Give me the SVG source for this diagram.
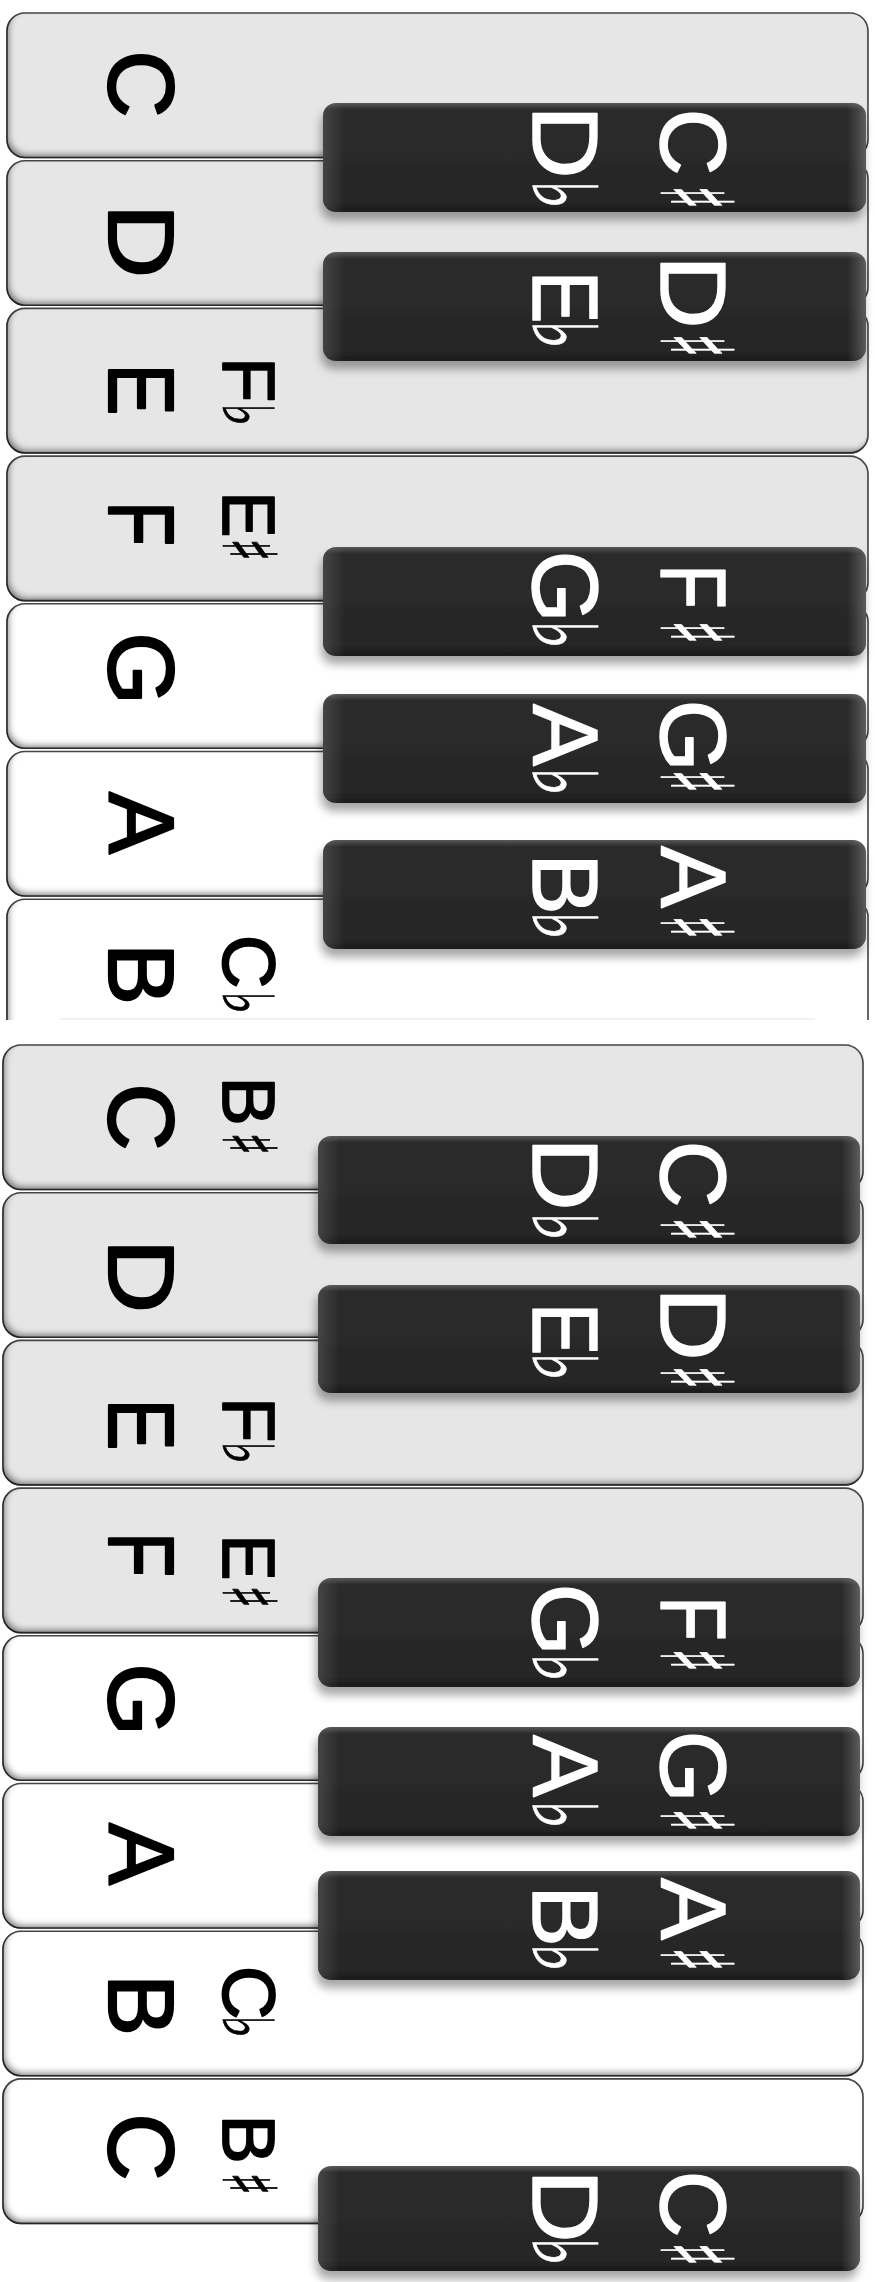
<svg xmlns="http://www.w3.org/2000/svg" width="875" height="2282" viewBox="0 0 875 2282">
<defs>
<style>
.wk{stroke:#4a4a4a;stroke-width:1.6;filter:url(#inset)}
.g{fill:#e6e6e6}.w{fill:#fff}
.bk{fill:url(#bkg);filter:url(#drop)}
.bkh{fill:url(#bkr)}
.lab{font-family:"Liberation Sans",Arial,sans-serif;font-size:93px;fill:#000;stroke:#000;stroke-width:2.2;stroke-linejoin:round}
.sub{font-size:74px;stroke-width:1.8}
.wl{fill:#fff;stroke:#fff;stroke-width:1.4}
.sym{font-family:"DejaVu Sans",sans-serif;stroke-width:0.8}
.sh{font-size:100px}.fl{font-size:89px}
.ssh{font-size:74px}.sfl{font-size:70px}
</style>
<linearGradient id="bkg" x1="0" y1="0" x2="0" y2="1">
<stop offset="0" stop-color="#575757"/><stop offset="0.06" stop-color="#2c2c2c"/><stop offset="0.9" stop-color="#262626"/><stop offset="1" stop-color="#1b1b1b"/>
</linearGradient>
<linearGradient id="bkr" x1="0" y1="0" x2="1" y2="0">
<stop offset="0" stop-color="#777" stop-opacity="0.35"/><stop offset="0.04" stop-color="#777" stop-opacity="0"/><stop offset="0.965" stop-color="#777" stop-opacity="0"/><stop offset="1" stop-color="#888" stop-opacity="0.55"/>
</linearGradient>
<filter id="inset" x="-3%" y="-10%" width="106%" height="120%">
<feFlood flood-color="#000" flood-opacity="0.8" result="c"/>
<feComposite in="c" in2="SourceAlpha" operator="out" result="inv"/>
<feGaussianBlur in="inv" stdDeviation="3"/>
<feOffset dx="3" dy="-4" result="o"/>
<feComposite in="o" in2="SourceAlpha" operator="in" result="s"/>
<feMerge><feMergeNode in="SourceGraphic"/><feMergeNode in="s"/></feMerge>
</filter>
<filter id="drop" x="-5%" y="-20%" width="110%" height="160%">
<feGaussianBlur in="SourceAlpha" stdDeviation="5"/>
<feOffset dx="-2" dy="8" result="b"/>
<feFlood flood-color="#000" flood-opacity="0.35"/>
<feComposite in2="b" operator="in"/>
<feMerge><feMergeNode/><feMergeNode in="SourceGraphic"/></feMerge>
</filter>
<clipPath id="cutB"><rect x="0" y="0" width="875" height="1020"/></clipPath>
</defs>

<g id="white-keys-1">
<g id="s1-C"><rect class="wk g" x="7" y="13" width="861" height="144.5" rx="18"/>
<text class="lab" transform="translate(109,0) rotate(90)" x="50.4">C</text></g>
<g id="s1-D"><rect class="wk g" x="7" y="160.7" width="861" height="144.5" rx="18"/>
<text class="lab" transform="translate(109,0) rotate(90)" x="204" textLength="74" lengthAdjust="spacingAndGlyphs">D</text></g>
<g id="s1-E"><rect class="wk g" x="7" y="308.4" width="861" height="144.5" rx="18"/>
<text class="lab" transform="translate(109,0) rotate(90)" x="363.5" textLength="52" lengthAdjust="spacingAndGlyphs">E</text>
<text class="lab sub" transform="translate(223,0) rotate(90)" x="357">F</text>
<text class="lab sym sfl" transform="translate(223,403) rotate(90) scale(0.72,1)">♭</text></g>
<g id="s1-F"><rect class="wk g" x="7" y="456.1" width="861" height="144.5" rx="18"/>
<text class="lab" transform="translate(109,0) rotate(90)" x="501" textLength="45" lengthAdjust="spacingAndGlyphs">F</text>
<text class="lab sub" transform="translate(223,0) rotate(90)" x="491.5" textLength="46" lengthAdjust="spacingAndGlyphs">E</text>
<text class="lab sym ssh" transform="translate(223,538) rotate(90) scale(0.66,1)">♯</text></g>
<g id="s1-G"><rect class="wk w" x="7" y="603.8" width="861" height="144.5" rx="18"/>
<text class="lab" transform="translate(109,0) rotate(90)" x="632.5">G</text></g>
<g id="s1-A"><rect class="wk w" x="7" y="751.5" width="861" height="144.5" rx="18"/>
<text class="lab" transform="translate(109,0) rotate(90)" x="792">A</text></g>
<g id="s1-B" clip-path="url(#cutB)"><rect class="wk w" x="7" y="899.2" width="861" height="144.5" rx="18"/>
<line x1="60" y1="1019" x2="815" y2="1019" stroke="#ececec" stroke-width="1.5"/>
<text class="lab" transform="translate(109,0) rotate(90)" x="943">B</text>
<text class="lab sub" transform="translate(223,0) rotate(90)" x="935">C</text>
<text class="lab sym sfl" transform="translate(223,991) rotate(90) scale(0.72,1)">♭</text></g>
</g>

<g id="white-keys-2">
<g id="s2-C"><rect class="wk g" x="3" y="1045" width="860" height="144.5" rx="18"/>
<text class="lab" transform="translate(109,0) rotate(90)" x="1083.4">C</text>
<text class="lab sub" transform="translate(223,0) rotate(90)" x="1076.6">B</text>
<text class="lab sym ssh" transform="translate(223,1132) rotate(90) scale(0.66,1)">♯</text></g>
<g id="s2-D"><rect class="wk g" x="3" y="1192.7" width="860" height="144.5" rx="18"/>
<text class="lab" transform="translate(109,0) rotate(90)" x="1239" textLength="74" lengthAdjust="spacingAndGlyphs">D</text></g>
<g id="s2-E"><rect class="wk g" x="3" y="1340.4" width="860" height="144.5" rx="18"/>
<text class="lab" transform="translate(109,0) rotate(90)" x="1398.5" textLength="52" lengthAdjust="spacingAndGlyphs">E</text>
<text class="lab sub" transform="translate(223,0) rotate(90)" x="1397">F</text>
<text class="lab sym sfl" transform="translate(223,1441) rotate(90) scale(0.72,1)">♭</text></g>
<g id="s2-F"><rect class="wk g" x="3" y="1488.1" width="860" height="144.5" rx="18"/>
<text class="lab" transform="translate(109,0) rotate(90)" x="1532" textLength="45" lengthAdjust="spacingAndGlyphs">F</text>
<text class="lab sub" transform="translate(223,0) rotate(90)" x="1534.5" textLength="46" lengthAdjust="spacingAndGlyphs">E</text>
<text class="lab sym ssh" transform="translate(223,1585) rotate(90) scale(0.66,1)">♯</text></g>
<g id="s2-G"><rect class="wk w" x="3" y="1635.8" width="860" height="144.5" rx="18"/>
<text class="lab" transform="translate(109,0) rotate(90)" x="1663.5">G</text></g>
<g id="s2-A"><rect class="wk w" x="3" y="1783.5" width="860" height="144.5" rx="18"/>
<text class="lab" transform="translate(109,0) rotate(90)" x="1823">A</text></g>
<g id="s2-B"><rect class="wk w" x="3" y="1931.2" width="860" height="144.5" rx="18"/>
<text class="lab" transform="translate(109,0) rotate(90)" x="1974">B</text>
<text class="lab sub" transform="translate(223,0) rotate(90)" x="1966">C</text>
<text class="lab sym sfl" transform="translate(223,2015) rotate(90) scale(0.72,1)">♭</text></g>
<g id="s2-C2"><rect class="wk w" x="3" y="2078.9" width="860" height="144.5" rx="18"/>
<text class="lab" transform="translate(109,0) rotate(90)" x="2113.4">C</text>
<text class="lab sub" transform="translate(223,0) rotate(90)" x="2114.6">B</text>
<text class="lab sym ssh" transform="translate(223,2172) rotate(90) scale(0.66,1)">♯</text></g>
</g>

<g id="black-keys-1">
<g id="s1-Cs"><rect class="bk" x="323" y="103" width="543" height="109" rx="13"/><rect class="bkh" x="323" y="103" width="543" height="109" rx="13"/>
<text class="lab wl" transform="translate(661,0) rotate(90)" x="108.4">C</text>
<text class="lab wl sym sh" transform="translate(661,185) rotate(90) scale(0.51,1)">♯</text>
<text class="lab wl" transform="translate(533,0) rotate(90)" x="105" textLength="74" lengthAdjust="spacingAndGlyphs">D</text>
<text class="lab wl sym fl" transform="translate(533,180) rotate(90) scale(0.71,1)">♭</text></g>
<g id="s1-Ds"><rect class="bk" x="323" y="252" width="543" height="109" rx="13"/><rect class="bkh" x="323" y="252" width="543" height="109" rx="13"/>
<text class="lab wl" transform="translate(661,0) rotate(90)" x="255" textLength="74" lengthAdjust="spacingAndGlyphs">D</text>
<text class="lab wl sym sh" transform="translate(661,333) rotate(90) scale(0.51,1)">♯</text>
<text class="lab wl" transform="translate(533,0) rotate(90)" x="270.5" textLength="53" lengthAdjust="spacingAndGlyphs">E</text>
<text class="lab wl sym fl" transform="translate(533,320) rotate(90) scale(0.71,1)">♭</text></g>
<g id="s1-Fs"><rect class="bk" x="323" y="547" width="543" height="109" rx="13"/><rect class="bkh" x="323" y="547" width="543" height="109" rx="13"/>
<text class="lab wl" transform="translate(661,0) rotate(90)" x="564" textLength="45" lengthAdjust="spacingAndGlyphs">F</text>
<text class="lab wl sym sh" transform="translate(661,620) rotate(90) scale(0.51,1)">♯</text>
<text class="lab wl" transform="translate(533,0) rotate(90)" x="550.5">G</text>
<text class="lab wl sym fl" transform="translate(533,620) rotate(90) scale(0.71,1)">♭</text></g>
<g id="s1-Gs"><rect class="bk" x="323" y="694" width="543" height="109" rx="13"/><rect class="bkh" x="323" y="694" width="543" height="109" rx="13"/>
<text class="lab wl" transform="translate(661,0) rotate(90)" x="699.5">G</text>
<text class="lab wl sym sh" transform="translate(661,769) rotate(90) scale(0.51,1)">♯</text>
<text class="lab wl" transform="translate(533,0) rotate(90)" x="704">A</text>
<text class="lab wl sym fl" transform="translate(533,767) rotate(90) scale(0.71,1)">♭</text></g>
<g id="s1-As"><rect class="bk" x="323" y="840" width="543" height="109" rx="13"/><rect class="bkh" x="323" y="840" width="543" height="109" rx="13"/>
<text class="lab wl" transform="translate(661,0) rotate(90)" x="846">A</text>
<text class="lab wl sym sh" transform="translate(661,915) rotate(90) scale(0.51,1)">♯</text>
<text class="lab wl" transform="translate(533,0) rotate(90)" x="853">B</text>
<text class="lab wl sym fl" transform="translate(533,911) rotate(90) scale(0.71,1)">♭</text></g>
</g>

<g id="black-keys-2">
<g id="s2-Cs"><rect class="bk" x="318" y="1136" width="542" height="108" rx="13"/><rect class="bkh" x="318" y="1136" width="542" height="108" rx="13"/>
<text class="lab wl" transform="translate(661,0) rotate(90)" x="1140.4">C</text>
<text class="lab wl sym sh" transform="translate(661,1217) rotate(90) scale(0.51,1)">♯</text>
<text class="lab wl" transform="translate(533,0) rotate(90)" x="1137" textLength="74" lengthAdjust="spacingAndGlyphs">D</text>
<text class="lab wl sym fl" transform="translate(533,1212) rotate(90) scale(0.71,1)">♭</text></g>
<g id="s2-Ds"><rect class="bk" x="318" y="1285" width="542" height="108" rx="13"/><rect class="bkh" x="318" y="1285" width="542" height="108" rx="13"/>
<text class="lab wl" transform="translate(661,0) rotate(90)" x="1287" textLength="74" lengthAdjust="spacingAndGlyphs">D</text>
<text class="lab wl sym sh" transform="translate(661,1365) rotate(90) scale(0.51,1)">♯</text>
<text class="lab wl" transform="translate(533,0) rotate(90)" x="1302.5" textLength="53" lengthAdjust="spacingAndGlyphs">E</text>
<text class="lab wl sym fl" transform="translate(533,1352) rotate(90) scale(0.71,1)">♭</text></g>
<g id="s2-Fs"><rect class="bk" x="318" y="1578" width="542" height="109" rx="13"/><rect class="bkh" x="318" y="1578" width="542" height="109" rx="13"/>
<text class="lab wl" transform="translate(661,0) rotate(90)" x="1596" textLength="45" lengthAdjust="spacingAndGlyphs">F</text>
<text class="lab wl sym sh" transform="translate(661,1648) rotate(90) scale(0.51,1)">♯</text>
<text class="lab wl" transform="translate(533,0) rotate(90)" x="1583.5">G</text>
<text class="lab wl sym fl" transform="translate(533,1653) rotate(90) scale(0.71,1)">♭</text></g>
<g id="s2-Gs"><rect class="bk" x="318" y="1727" width="542" height="109" rx="13"/><rect class="bkh" x="318" y="1727" width="542" height="109" rx="13"/>
<text class="lab wl" transform="translate(661,0) rotate(90)" x="1730.5">G</text>
<text class="lab wl sym sh" transform="translate(661,1808) rotate(90) scale(0.51,1)">♯</text>
<text class="lab wl" transform="translate(533,0) rotate(90)" x="1735">A</text>
<text class="lab wl sym fl" transform="translate(533,1800) rotate(90) scale(0.71,1)">♭</text></g>
<g id="s2-As"><rect class="bk" x="318" y="1871" width="542" height="109" rx="13"/><rect class="bkh" x="318" y="1871" width="542" height="109" rx="13"/>
<text class="lab wl" transform="translate(661,0) rotate(90)" x="1878">A</text>
<text class="lab wl sym sh" transform="translate(661,1947) rotate(90) scale(0.51,1)">♯</text>
<text class="lab wl" transform="translate(533,0) rotate(90)" x="1885">B</text>
<text class="lab wl sym fl" transform="translate(533,1943) rotate(90) scale(0.71,1)">♭</text></g>
<g id="s3-Cs"><rect class="bk" x="318" y="2166" width="542" height="105" rx="13"/><rect class="bkh" x="318" y="2166" width="542" height="105" rx="13"/>
<text class="lab wl" transform="translate(661,0) rotate(90)" x="2170.4">C</text>
<text class="lab wl sym sh" transform="translate(661,2242) rotate(90) scale(0.51,1)">♯</text>
<text class="lab wl" transform="translate(533,0) rotate(90)" x="2169" textLength="74" lengthAdjust="spacingAndGlyphs">D</text>
<text class="lab wl sym fl" transform="translate(533,2237) rotate(90) scale(0.71,1)">♭</text></g>
</g>
</svg>
